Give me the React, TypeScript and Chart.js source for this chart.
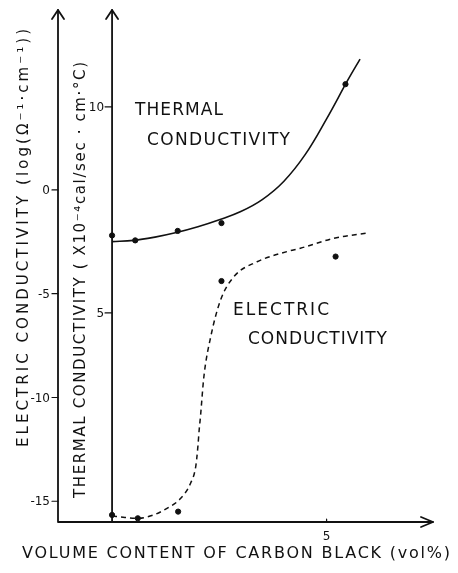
import React, { useEffect, useRef } from "react";
import { Chart, registerables } from "chart.js";

Chart.register(...registerables);

// Carbon black content (vol%) of the measured samples
const samplesX = [0, 0.54, 1.53, 2.55, 5.44];
// Thermal conductivity (x10^-4 cal/sec·cm·°C) at each sample
const thermalValues = [6.88, 6.76, 6.99, 7.18, 10.55];

const electricSamplesX = [0, 0.6, 1.54, 2.55, 5.21];
// Electric conductivity, log(Ω^-1·cm^-1)
const electricValues = [-15.66, -15.82, -15.5, -4.39, -3.21];

// Smoothed trend through the thermal measurements
const thermalFitX = [0, 0.5, 1.0, 1.5, 2.0, 2.5, 3.0, 3.5, 4.0, 4.5, 5.0, 5.5, 5.78];
const thermalFitY = [6.73, 6.76, 6.84, 6.95, 7.09, 7.26, 7.46, 7.75, 8.19, 8.84, 9.71, 10.66, 11.16];

// Percolation-type trend through the electric measurements
const electricFitX = [0, 0.3, 0.6, 0.97, 1.28, 1.6, 1.83, 1.95, 2.0, 2.03, 2.06, 2.14, 2.3, 2.53, 2.84, 3.38, 4.08, 4.39, 5.17, 5.91];
const electricFitY = [-15.71, -15.78, -15.82, -15.66, -15.34, -14.86, -14.13, -13.33, -12.37, -11.57, -10.93, -9.0, -7.07, -5.3, -4.18, -3.46, -2.97, -2.81, -2.33, -2.09];

const electricTicks = [0, -5, -10, -15];
const thermalTicks = [5, 10];
const xTicks = [5];

const xTitle = "VOLUME CONTENT OF CARBON BLACK (vol%)";
const electricTitle = "ELECTRIC CONDUCTIVITY (log(Ω⁻¹·cm⁻¹))";
const thermalTitle = "THERMAL CONDUCTIVITY ( X10⁻⁴cal/sec · cm·°C)";

const FONT = '"DejaVu Sans", "Liberation Sans", sans-serif';
const INK = "#111";

// Draw text stretched with letter spacing so it spans a given width
function spacedText(ctx: CanvasRenderingContext2D, text: string, x: number, y: number, width: number) {
  const c: any = ctx;
  c.letterSpacing = "0px";
  const w0 = ctx.measureText(text).width;
  const n = Array.from(text).length;
  const sp = n > 1 ? (width - w0) / (n - 1) : 0;
  if (sp >= 0) {
    c.letterSpacing = sp + "px";
    ctx.textAlign = "left";
    ctx.fillText(text, x, y);
  } else {
    ctx.save();
    ctx.translate(x, y);
    ctx.scale(width / w0, 1);
    ctx.textAlign = "left";
    ctx.fillText(text, 0, 0);
    ctx.restore();
  }
  c.letterSpacing = "0px";
}

function upArrow(ctx: CanvasRenderingContext2D, x: number, y: number) {
  ctx.beginPath();
  ctx.moveTo(x - 6, y + 9);
  ctx.lineTo(x, y);
  ctx.lineTo(x + 6, y + 9);
  ctx.stroke();
}

const axesPlugin = {
  id: "figureAxes",
  afterDraw(chart: any) {
    const ctx: CanvasRenderingContext2D = chart.ctx;
    const { left, right, top, bottom } = chart.chartArea;
    const xs = chart.scales.x;
    const ye = chart.scales.yE;
    const yt = chart.scales.yT;
    const x0 = xs.getPixelForValue(0);

    ctx.save();
    ctx.strokeStyle = INK;
    ctx.fillStyle = INK;
    ctx.lineWidth = 1.8;
    ctx.lineCap = "round";
    ctx.lineJoin = "round";

    // axis lines
    ctx.beginPath();
    ctx.moveTo(left, top);
    ctx.lineTo(left, bottom);
    ctx.moveTo(x0, top);
    ctx.lineTo(x0, bottom);
    ctx.moveTo(left, bottom);
    ctx.lineTo(right, bottom);
    ctx.stroke();

    // arrow heads
    upArrow(ctx, left, top);
    upArrow(ctx, x0, top);
    ctx.beginPath();
    ctx.moveTo(right - 12, bottom - 5);
    ctx.lineTo(right, bottom);
    ctx.lineTo(right - 12, bottom + 5);
    ctx.stroke();

    // tick marks
    ctx.lineWidth = 1.2;
    ctx.beginPath();
    electricTicks.forEach((v) => {
      const y = ye.getPixelForValue(v);
      ctx.moveTo(left - 6, y);
      ctx.lineTo(left, y);
    });
    thermalTicks.forEach((v) => {
      const y = yt.getPixelForValue(v);
      ctx.moveTo(x0 - 7, y);
      ctx.lineTo(x0, y);
    });
    xTicks.forEach((v) => {
      const x = xs.getPixelForValue(v);
      ctx.moveTo(x, bottom - 3);
      ctx.lineTo(x, bottom);
    });
    ctx.stroke();

    // tick labels
    ctx.font = "12px " + FONT;
    ctx.textBaseline = "middle";
    ctx.textAlign = "right";
    electricTicks.forEach((v) => {
      ctx.fillText(String(v), left - 8, ye.getPixelForValue(v) + 1);
    });
    thermalTicks.forEach((v) => {
      ctx.fillText(String(v), x0 - 8, yt.getPixelForValue(v) + 1);
    });
    ctx.textAlign = "center";
    ctx.textBaseline = "alphabetic";
    xTicks.forEach((v) => {
      ctx.fillText(String(v), xs.getPixelForValue(v), bottom + 18);
    });

    // axis titles
    ctx.font = "16px " + FONT;
    ctx.textBaseline = "alphabetic";
    spacedText(ctx, xTitle, 22, 558, 428);

    ctx.save();
    ctx.translate(27.5, 238);
    ctx.rotate(-Math.PI / 2);
    ctx.font = "15px " + FONT;
    spacedText(ctx, electricTitle, -209, 0, 418);
    ctx.restore();

    ctx.save();
    ctx.translate(84.5, 280);
    ctx.rotate(-Math.PI / 2);
    ctx.font = "15px " + FONT;
    spacedText(ctx, thermalTitle, -218, 0, 436);
    ctx.restore();

    // curve labels
    ctx.font = "17px " + FONT;
    spacedText(ctx, "THERMAL", 135, 115, 88);
    spacedText(ctx, "CONDUCTIVITY", 147, 145, 143);
    spacedText(ctx, "ELECTRIC", 233, 315, 96);
    spacedText(ctx, "CONDUCTIVITY", 248, 344, 139);

    ctx.restore();
  },
};

function toPoints(xs: number[], ys: number[]) {
  return xs.map((x, i) => ({ x, y: ys[i] }));
}

export default function App() {
  const ref = useRef<HTMLCanvasElement>(null);

  useEffect(() => {
    if (!ref.current) return;
    const chart = new Chart(ref.current, {
      type: "scatter",
      data: {
        datasets: [
          {
            type: "line",
            data: toPoints(thermalFitX, thermalFitY),
            yAxisID: "yT",
            borderColor: INK,
            borderWidth: 1.6,
            pointRadius: 0,
            tension: 0.4,
            fill: false,
          },
          {
            type: "line",
            data: toPoints(electricFitX, electricFitY),
            yAxisID: "yE",
            borderColor: INK,
            borderWidth: 1.5,
            borderDash: [5, 4],
            pointRadius: 0,
            cubicInterpolationMode: "monotone",
            fill: false,
          },
          {
            data: toPoints(samplesX, thermalValues),
            yAxisID: "yT",
            backgroundColor: INK,
            borderColor: INK,
            pointRadius: 2.6,
            showLine: false,
          },
          {
            data: toPoints(electricSamplesX, electricValues),
            yAxisID: "yE",
            backgroundColor: INK,
            borderColor: INK,
            pointRadius: 2.6,
            showLine: false,
          },
        ],
      } as any,
      options: {
        animation: false,
        responsive: false,
        devicePixelRatio: 1,
        layout: { padding: { left: 58, top: 10, right: 25, bottom: 51 } },
        plugins: { legend: { display: false }, tooltip: { enabled: false } },
        scales: {
          x: { type: "linear", min: -1.26, max: 7.48, display: false },
          yE: { type: "linear", position: "left", min: -16, max: 8.67, display: false },
          yT: { type: "linear", position: "right", min: -0.073, max: 12.35, display: false },
        },
      } as any,
      plugins: [axesPlugin],
    });
    return () => chart.destroy();
  }, []);

  return (
    <div style={{ position: "absolute", left: 0, top: 0, width: 458, height: 573, background: "#fff" }}>
      <canvas ref={ref} width={458} height={573} />
    </div>
  );
}
